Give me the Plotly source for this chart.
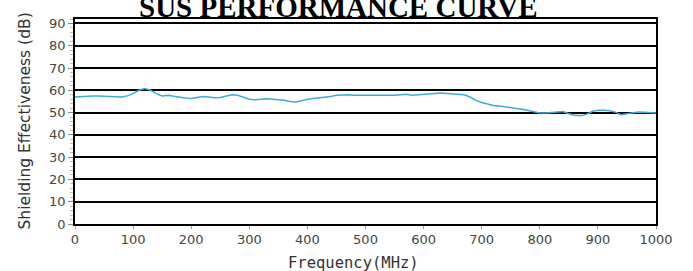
import plotly.graph_objects as go

freq = list(range(0, 1001, 10))
se_db = [57, 57.2, 57.3, 57.4, 57.4, 57.3, 57.2, 57.3, 57, 57.5,
         58.5, 60, 60.8, 60, 58.5, 57.5, 57.8, 57.3, 56.8, 56.5,
         56.3, 56.8, 57.2, 57, 56.7, 56.8, 57.5, 58, 57.8, 57,
         56, 55.8, 56, 56.2, 56, 55.8, 55.5, 55, 54.8, 55.3,
         56, 56.3, 56.5, 56.8, 57.2, 57.8, 58, 58, 57.8, 57.8,
         57.9, 57.8, 57.7, 57.9, 57.6, 57.8, 58, 58.2, 57.8, 58,
         58.3, 58.2, 58.6, 58.8, 58.6, 58.5, 58.3, 58, 57, 55.5,
         54.5, 53.8, 53.2, 53, 52.5, 52.2, 51.8, 51.5, 51, 50.3,
         49.8, 49.8, 50, 50.2, 50.5, 49.5, 48.8, 48.6, 49.2, 50.5,
         51, 51, 50.8, 50.2, 49, 49.5, 50, 50.3, 50.2, 50, 49.8]

x_ticks = list(range(0, 1001, 100))
y_ticks = list(range(0, 91, 10))

fig = go.Figure()
fig.add_trace(go.Scatter(x=freq, y=se_db, mode="lines",
                         line=dict(color="#3fa9dc", width=1.5),
                         showlegend=False, hoverinfo="skip"))

fig.update_layout(
    width=693, height=271,
    margin=dict(l=75, r=37, t=19, b=47),
    paper_bgcolor="white", plot_bgcolor="white",
    font=dict(family="DejaVu Sans", color="#333333"),
    annotations=[
        dict(text="<b>SUS PERFORMANCE CURVE</b>", xref="paper", yref="paper",
             x=0.454, y=1, xanchor="center", yanchor="bottom", yshift=-6,
             showarrow=False,
             font=dict(family="Liberation Serif", size=29, color="#000000")),
        dict(text="Frequency(MHz)", xref="paper", yref="paper",
             x=0.48, y=0, xanchor="center", yanchor="top", yshift=-28,
             showarrow=False,
             font=dict(family="DejaVu Sans Mono", size=15.5, color="#333333")),
        dict(text="Shielding Effectiveness (dB)", xref="paper", yref="paper",
             x=0, y=0.5, xanchor="center", yanchor="middle", xshift=-51,
             textangle=-90, showarrow=False,
             font=dict(family="DejaVu Sans", size=15.5, color="#333333")),
    ],
)

fig.update_xaxes(range=[0, 1000], tickvals=x_ticks,
                 showgrid=False, zeroline=False,
                 showline=True, linecolor="black", linewidth=1.5, mirror=True,
                 ticks="outside", ticklen=3, tickcolor="#999999",
                 tickfont=dict(family="DejaVu Sans", size=13, color="#444444"))
fig.update_yaxes(range=[0, 92], tickvals=y_ticks,
                 showgrid=True, gridcolor="black", gridwidth=1.5,
                 zeroline=False,
                 showline=True, linecolor="black", linewidth=1.5, mirror=True,
                 ticks="outside", ticklen=5, tickcolor="#888888",
                 minor=dict(dtick=2, ticks="outside", ticklen=3,
                            tickcolor="#bbbbbb", showgrid=False),
                 tickfont=dict(family="DejaVu Sans", size=13, color="#444444"))

fig.write_html("out.html", config={"displayModeBar": False},
               post_script="document.body.style.margin='0';document.body.style.overflow='hidden';")
